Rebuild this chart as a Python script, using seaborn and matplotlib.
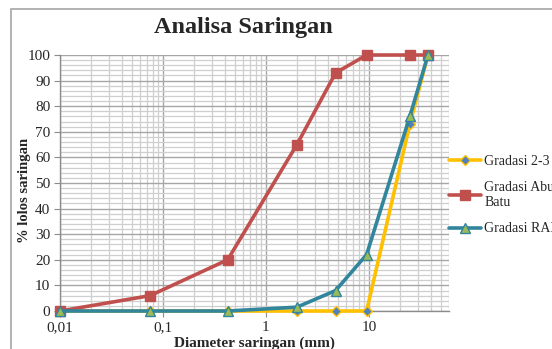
import numpy as np
import pandas as pd
import seaborn as sns
import matplotlib.pyplot as plt
from matplotlib.ticker import FixedLocator, MultipleLocator, NullFormatter
from matplotlib.patches import Rectangle

# Data
diameter = [0.01, 0.075, 0.425, 2, 4.75, 9.5, 25, 37.5]
gradasi_23 = [0, 0, 0, 0, 0, 0, 73, 100]
gradasi_abu = [0, 6, 20, 65, 93, 100, 100, 100]
gradasi_rap = [0, 0, 0, 1.5, 8, 22, 76, 100]

labels = ["Gradasi 2-3", "Gradasi Abu\nBatu", "Gradasi RAP"]
x_ticks = [0.01, 0.1, 1, 10]
x_tick_labels = ["0,01", "0,1", "1", "10"]

sns.set_style("white")
plt.rcParams["font.family"] = ["Liberation Serif", "DejaVu Serif"]

fig = plt.figure(figsize=(5.52, 3.49), dpi=100)
ax = fig.add_axes([60 / 552, 1 - 311 / 349, 389 / 552, 256 / 349])

styles = [
    (gradasi_23, "#FFC000", "D", "#4F81BD", "#FFC000", 5),
    (gradasi_abu, "#C0504D", "s", "#C0504D", "#C0504D", 7),
    (gradasi_rap, "#31859C", "^", "#9BBB59", "#31859C", 7.5),
]
for (vals, col, mk, mfc, mec, ms), lab in zip(styles, labels):
    df = pd.DataFrame({"d": diameter, "p": vals})
    sns.lineplot(data=df, x="d", y="p", ax=ax, color=col, linewidth=2.6,
                 marker=mk, markerfacecolor=mfc, markeredgecolor=mec,
                 markeredgewidth=1, markersize=ms, label=lab, sort=False,
                 clip_on=False, zorder=3)

ax.set_xscale("log")
ax.set_xlim(0.01, 60)
ax.set_ylim(0, 100)
ax.xaxis.set_major_locator(FixedLocator(x_ticks))
ax.set_xticklabels(x_tick_labels)
ax.xaxis.set_minor_locator(FixedLocator(
    [m * 10.0 ** e for e in range(-2, 2) for m in range(2, 10) if m * 10.0 ** e <= 60]))
ax.xaxis.set_minor_formatter(NullFormatter())
ax.yaxis.set_major_locator(MultipleLocator(10))
ax.yaxis.set_minor_locator(MultipleLocator(2))

ax.grid(which="major", color="#A6A6A6", linewidth=1.0)
ax.grid(which="minor", color="#CFCFCF", linewidth=0.9)
ax.set_axisbelow(True)
for s in ["top", "right"]:
    ax.spines[s].set_visible(False)
for s in ["left", "bottom"]:
    ax.spines[s].set_color("#8C8C8C")
    ax.spines[s].set_linewidth(1.0)
ax.tick_params(axis="both", which="major", labelsize=11, length=4,
               color="#8C8C8C", direction="out", left=True, bottom=True, pad=3)
ax.tick_params(axis="both", which="minor", length=0)

ax.set_xlabel("Diameter saringan (mm)", fontsize=11, fontweight="bold", labelpad=0)
ax.xaxis.set_label_coords(0.50, -0.10)
ax.set_ylabel("% lolos saringan", fontsize=10.5, fontweight="bold", labelpad=2)
ax.yaxis.set_label_coords(-0.075, 0.47)

fig.text(243 / 552, 1 - 28 / 349, "Analisa Saringan", fontsize=17.5,
         fontweight="bold", ha="center", va="center")

leg = ax.legend(loc="upper left", bbox_to_anchor=(449 / 552, 1 - 155 / 349),
                bbox_transform=fig.transFigure, frameon=False, fontsize=10,
                handlelength=2.3, handletextpad=0.25, labelspacing=0.95,
                borderaxespad=0, borderpad=0)

fig.patches.append(Rectangle((11 / 552, -0.05), 1.0, 1 - 9 / 349 + 0.05,
                             transform=fig.transFigure, fill=False,
                             edgecolor="#A6A6A6", linewidth=1.2))

fig.savefig("out.png", dpi=100)
